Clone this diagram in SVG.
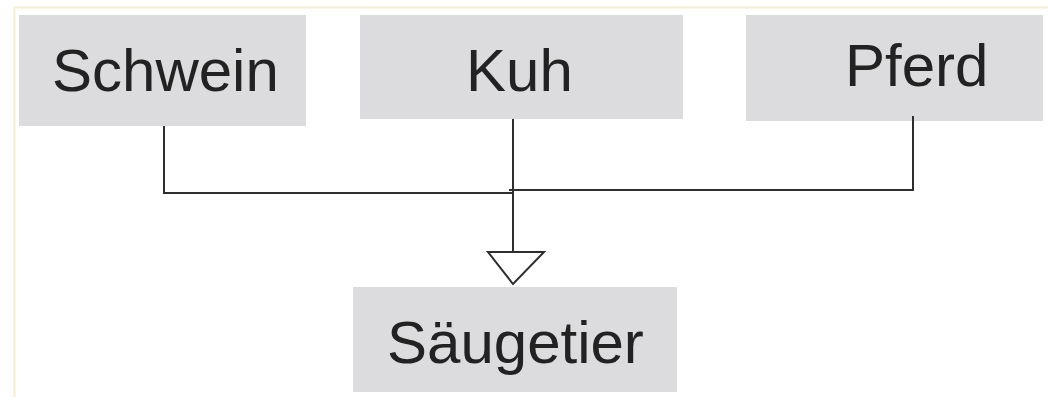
<svg xmlns="http://www.w3.org/2000/svg" width="1048" height="397" viewBox="0 0 1048 397">
<style>
.box{fill:#dcdcde}
.lbl{font-family:"Liberation Sans",Arial,sans-serif;font-size:60px;fill:#222}
.ln{fill:none;stroke:#2e2e2e;stroke-width:2}
</style>
<rect width="1048" height="397" fill="#fff"/>
<path d="M14.5 397V7.5H1048" fill="none" stroke="#f6eed3" stroke-width="2"/>
<g id="schwein"><rect class="box" x="19" y="15" width="287" height="111"/><text class="lbl" x="52" y="91">Schwein</text></g>
<g id="kuh"><rect class="box" x="360" y="15" width="323" height="104"/><text class="lbl" x="466" y="91">Kuh</text></g>
<g id="pferd"><rect class="box" x="746" y="15" width="297" height="106"/><text class="lbl" x="845" y="86">Pferd</text></g>
<g id="saeugetier"><rect class="box" x="353" y="287" width="324" height="105"/><text class="lbl" x="387" y="363">Säugetier</text></g>
<g id="connectors">
<path class="ln" d="M164 126V193H512"/>
<path class="ln" d="M513 119V252"/>
<path class="ln" d="M913 116V190H509" stroke="#444"/>
<path class="ln" d="M488 252H544L513 284Z" fill="#fff"/>
</g>
</svg>
